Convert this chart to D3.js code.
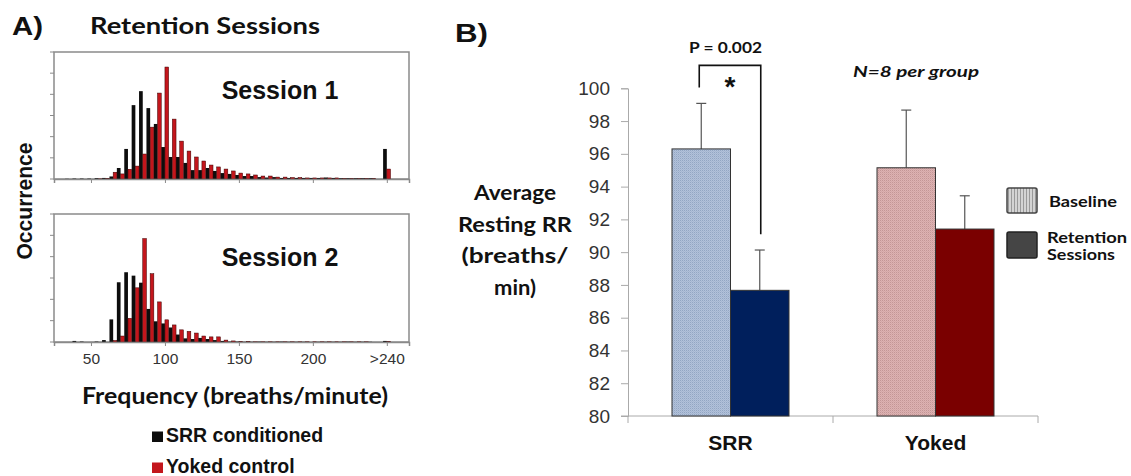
<!DOCTYPE html>
<html><head><meta charset="utf-8">
<script src="https://cdn.jsdelivr.net/npm/d3@7"></script>
<style>body{margin:0;background:#fff;} svg{display:block;}</style>
</head><body><svg id="c" width="1131" height="476"></svg>
<script>
// ---------- Panel A data (bins of 5 breaths/min; 250 = ">240") ----------
const bins = [30,35,40,45,50,55,60,65,70,75,80,85,90,95,100,105,110,115,120,125,130,135,140,145,150,155,160,165,170,175,180,185,190,195,200,205,210,215,220,225,230,235,240,250];
const histTickValues = [50,100,150,200,250];
const histTickLabels = ["50","100","150","200",">240"];
const s1Srr   = [0,1,2,2,2,4,5,12,52,142, 349,415,335,260,151,104,104,76,42,42, 52,38,28,24,19,14,14,9,7,9, 5,5,5,5,5,5,7,5,4,4, 4,4,4, 142];
const s1Yoked = [0,0,0,0,0,1,2,32,24,46, 61,118,245,406,529,283,179,132,104,85, 66,57,47,38,28,24,19,14,14,9, 9,7,7,5,5,5,5,5,2,2, 2,2,2, 47];
const s2Srr   = [0,0,5,2,0,2,9,106,280,327, 311,278,155,97,87,68,35,17,14,19, 14,9,5,2,2,1,1,2,1,1, 2,1,1,1,0,1,1,1,1,2, 1,1,1, 5];
const s2Yoked = [0,0,0,0,0,0,0,7,28,111, 254,485,320,188,104,80,57,50,42,28, 24,24,9,5,2,2,1,1,1,1, 1,1,1,1,1,1,1,1,1,1, 1,1,0, 2];
const sessionNames = ["Session 1","Session 2"];
const histLegend = ["SRR conditioned","Yoked control"];

// ---------- Panel B data ----------
const groups = ["SRR","Yoked"];
const seriesNames = ["Baseline","Retention"];
const baselineMean = [96.3, 95.15];
const baselineErr  = [2.78, 3.52];
const retentionMean = [87.67, 91.41];
const retentionErr  = [2.46, 2.03];
const yTicksB = [80,82,84,86,88,90,92,94,96,98,100];

const svg = d3.select("#c");
const arial = "'Liberation Sans', Arial, sans-serif";
const cal = "Lato, 'Open Sans', sans-serif";
const defs = svg.append("defs");

function txt(x,y,t,o){
  const e = svg.append("text").attr("x",x).attr("y",y).attr("font-family",o.f||arial).attr("font-size",o.s)
    .attr("font-weight",o.w||"normal").attr("fill",o.c||"#111").text(t);
  if(o.a) e.attr("text-anchor",o.a);
  if(o.i) e.attr("font-style","italic");
  if(o.L) e.attr("textLength",o.L).attr("lengthAdjust","spacingAndGlyphs");
  return e;
}

// patterns
function dotPattern(id, base, dark){
  const p = defs.append("pattern").attr("id",id).attr("width",2).attr("height",2).attr("patternUnits","userSpaceOnUse");
  p.append("rect").attr("width",2).attr("height",2).attr("fill",base);
  p.append("rect").attr("width",1).attr("height",1).attr("fill",dark);
  p.append("rect").attr("x",1).attr("y",1).attr("width",1).attr("height",1).attr("fill",dark).attr("opacity",0.4);
}
dotPattern("pSrr","#b2c2da","#93a6c3");
dotPattern("pYok","#ddb2b2","#c39696");
const sp = defs.append("pattern").attr("id","pLeg").attr("width",3).attr("height",3).attr("patternUnits","userSpaceOnUse");
sp.append("rect").attr("width",3).attr("height",3).attr("fill","#d4d4d4");
sp.append("rect").attr("width",1).attr("height",3).attr("fill","#9a9a9a");

// ---------- Panel A ----------
txt(12,35,"A)",{s:25,w:"bold",L:31});
txt(90,34,"Retention Sessions",{f:cal,s:23.5,w:"bold",L:230});

const xh = d3.scaleLinear().domain([25,265]).range([54,409]);
const bw = (xh(30)-xh(25));
const panels = [
  {top:52, bottom:179, srr:s1Srr, yok:s1Yoked, name:sessionNames[0], labels:false, ty:99},
  {top:214, bottom:342, srr:s2Srr, yok:s2Yoked, name:sessionNames[1], labels:true, ty:266}
];
panels.forEach(p=>{
  const y = d3.scaleLinear().domain([0,600]).range([p.bottom,p.top]);
  const g = svg.append("g");
  g.append("rect").attr("x",xh(25)).attr("y",p.top).attr("width",xh(265)-xh(25)).attr("height",p.bottom-p.top)
    .attr("fill","none").attr("stroke","#8a8a8a").attr("stroke-width",1.5);
  g.selectAll(".yt").data(d3.range(0,601,100)).join("line")
    .attr("x1",xh(25)-4).attr("x2",xh(25)).attr("y1",d=>y(d)).attr("y2",d=>y(d)).attr("stroke","#8a8a8a");
  g.selectAll(".b").data(bins).join("rect")
    .attr("x",d=>xh(d)-bw/2).attr("width",bw/2)
    .attr("y",(d,i)=>y(p.srr[i])).attr("height",(d,i)=>p.bottom-y(p.srr[i]))
    .attr("fill","#0d0d0d");
  g.selectAll(".r").data(bins).join("rect")
    .attr("x",d=>xh(d)).attr("width",bw/2)
    .attr("y",(d,i)=>y(p.yok[i])).attr("height",(d,i)=>p.bottom-y(p.yok[i]))
    .attr("fill","#c3161c").attr("stroke","#3a0000").attr("stroke-width",0.5);
  const ax = d3.axisBottom(xh).tickValues(histTickValues).tickSize(4).tickFormat((d,i)=>p.labels?histTickLabels[i]:"");
  const axg = g.append("g").attr("transform",`translate(0,${p.bottom})`).call(ax);
  axg.select(".domain").attr("stroke","#8a8a8a").attr("stroke-width",1.5);
  axg.selectAll(".tick line").attr("stroke","#8a8a8a");
  axg.selectAll("text").attr("font-family",arial).attr("font-size",15.5).attr("fill","#333").attr("dy","0.95em");
  g.append("text").attr("x",280).attr("y",p.ty).attr("text-anchor","middle").attr("font-family",arial).attr("font-size",25).attr("fill","#111").attr("font-weight","bold").text(p.name);
});
svg.append("text").attr("transform","translate(32,201) rotate(-90)").attr("text-anchor","middle")
  .attr("font-family",arial).attr("font-size",21.5).attr("font-weight","bold").attr("fill","#111")
  .attr("textLength",117).attr("lengthAdjust","spacingAndGlyphs").text("Occurrence");
txt(82,404,"Frequency (breaths/minute)",{f:cal,s:23.5,w:"bold",L:306});
const legA = [{c:"#0d0d0d",y:442},{c:"#c3161c",y:473}];
legA.forEach((l,i)=>{
  svg.append("rect").attr("x",152).attr("y",l.y-10.5).attr("width",11).attr("height",10.5).attr("fill",l.c);
  txt(166,l.y,histLegend[i],{s:19.5,w:"bold"});
});

// ---------- Panel B ----------
txt(455,42,"B)",{s:25,w:"bold",L:33});
const yB = d3.scaleLinear().domain([80,100]).range([416,88.3]);
const xB = d3.scaleBand().domain(groups).range([628,1038]).padding(0);
const xS = d3.scaleBand().domain(seriesNames).range([44,161]);
const yAx = svg.append("g").attr("transform","translate(628,0)").call(d3.axisLeft(yB).tickValues(yTicksB).tickSize(7).tickPadding(11));
yAx.select(".domain").attr("stroke","#aaa");
yAx.selectAll(".tick line").attr("stroke","#aaa");
yAx.selectAll("text").attr("font-family",arial).attr("font-size",19).attr("fill","#333");
svg.append("line").attr("x1",621).attr("x2",1038).attr("y1",416).attr("y2",416).attr("stroke","#aaa");
svg.selectAll(".xt").data([628,833,1038]).join("line").attr("x1",d=>d).attr("x2",d=>d).attr("y1",416).attr("y2",423).attr("stroke","#aaa");
svg.selectAll(".xl").data(groups).join("text").attr("x",d=>xB(d)+xB.bandwidth()/2).attr("y",450)
  .attr("text-anchor","middle").attr("font-family",arial).attr("font-weight","bold").attr("font-size",21).attr("fill","#111").text(d=>d);

const barData = [];
groups.forEach((gname,i)=>{
  barData.push({g:gname,s:"Baseline",v:baselineMean[i],e:baselineErr[i],fill:i===0?"url(#pSrr)":"url(#pYok)"});
  barData.push({g:gname,s:"Retention",v:retentionMean[i],e:retentionErr[i],fill:i===0?"#001f5c":"#7a0000"});
});
const bwB = xS.bandwidth();
barData.forEach(d=>{
  const x0 = xB(d.g)+xS(d.s);
  const cx = x0+bwB/2;
  svg.append("line").attr("x1",cx).attr("x2",cx).attr("y1",yB(d.v)).attr("y2",yB(d.v+d.e)).attr("stroke","#555").attr("stroke-width",1.2);
  svg.append("line").attr("x1",cx-5).attr("x2",cx+5).attr("y1",yB(d.v+d.e)).attr("y2",yB(d.v+d.e)).attr("stroke","#555").attr("stroke-width",1.2);
  svg.append("rect").attr("x",x0).attr("y",yB(d.v)).attr("width",bwB).attr("height",yB(80)-yB(d.v))
    .attr("fill",d.fill).attr("stroke","#333").attr("stroke-width",1);
});
const lx = xB("SRR")+xS("Baseline")+bwB/2-2;
const rx = xB("SRR")+xS("Retention")+bwB/2+1;
svg.append("path").attr("d",`M${lx},${yB(100.05)}V${yB(101.4)}H${rx}V${yB(91.1)}`).attr("fill","none").attr("stroke","#111").attr("stroke-width",1.6);
txt((lx+rx)/2,96,"*",{s:28,w:"bold",a:"middle"});
txt(689,53,"P = 0.002",{f:cal,s:15,w:"bold",L:73});
txt(853,77,"N=8 per group",{f:cal,s:16,w:"bold",i:true,L:126});
const yTitle = ["Average","Resting RR","(breaths/","min)"];
const yTitleW = [82,114,107,42];
yTitle.forEach((t,i)=>{
  txt(515,200+i*31.5,t,{f:cal,s:21.5,w:"bold",a:"middle",L:yTitleW[i]});
});
svg.append("rect").attr("x",1007).attr("y",188).attr("width",30).attr("height",25).attr("rx",2).attr("fill","url(#pLeg)").attr("stroke","#444").attr("stroke-width",1.5);
txt(1049,207,"Baseline",{f:cal,s:15,w:"bold",L:68});
svg.append("rect").attr("x",1007).attr("y",232).attr("width",30).attr("height",26).attr("rx",2).attr("fill","#454545").attr("stroke","#222").attr("stroke-width",1.5);
txt(1047,243,"Retention",{f:cal,s:15,w:"bold",L:80});
txt(1047,259.5,"Sessions",{f:cal,s:15,w:"bold",L:68});
</script></body></html>
